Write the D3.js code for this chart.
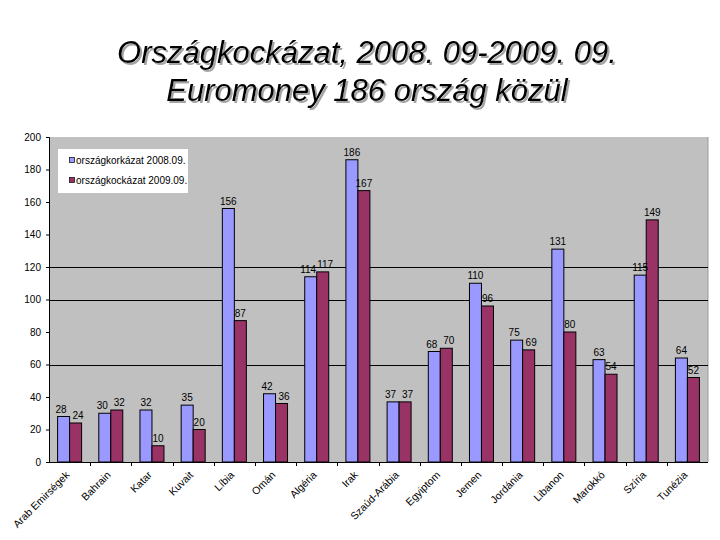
<!DOCTYPE html>
<html><head><meta charset="utf-8">
<script src="https://cdn.jsdelivr.net/npm/d3@7"></script>
<style>body{margin:0;background:#fff}</style>
</head><body>
<svg id="c" width="720" height="540"></svg>
<script>
const categories = ["Arab Emirségek","Bahrain","Katar","Kuvait","Líbia","Omán","Algéria","Irak","Szaúd-Arábia","Egyiptom","Jemen","Jordánia","Libanon","Marokkó","Szíria","Tunézia"];
const series2008 = [28,30,32,35,156,42,114,186,37,68,110,75,131,63,115,64];
const series2009 = [24,32,10,20,87,36,117,167,37,70,96,69,80,54,149,52];
const seriesNames = ["országkorkázat 2008.09.","országkockázat 2009.09."];
const yTicks = [0,20,40,60,80,100,120,140,160,180,200];
const gridValues = [60,100,120];
const titleLines = ["Országkockázat, 2008. 09-2009. 09.","Euromoney 186 ország közül"];

const colors = ["#9999FF","#993366"];
const svg = d3.select("#c");
const L=49, R=708, T=137, B=462;
const font = "Liberation Sans, Arial, sans-serif";

const defs = svg.append("defs");
const f = defs.append("filter").attr("id","sh").attr("x","-5%").attr("y","-20%").attr("width","110%").attr("height","140%");
f.append("feDropShadow").attr("dx",2).attr("dy",2).attr("stdDeviation",0.4)
  .attr("flood-color","#9a9a9a").attr("flood-opacity",0.9);

// title
titleLines.forEach((t,i)=>{
  const yb = [63,101][i];
  svg.append("text").attr("x",367).attr("y",yb).attr("text-anchor","middle")
    .attr("font-family",font).attr("font-style","italic")
    .attr("font-size",31).attr("fill","#000").attr("filter","url(#sh)").text(t);
});

const x0 = d3.scaleBand().domain(categories).range([L,R]).padding(0);
const bw = x0.bandwidth();
const x1 = d3.scaleBand().domain([0,1]).range([bw/2-12, bw/2+12]).padding(0);
const y = d3.scaleLinear().domain([0,200]).range([B,T]);

svg.append("rect").attr("x",L).attr("y",T).attr("width",R-L).attr("height",B-T).attr("fill","#C0C0C0");
svg.append("line").attr("x1",R).attr("x2",R).attr("y1",T).attr("y2",B).attr("stroke","#9a9a9a");

svg.append("g").selectAll("line").data(gridValues).join("line")
  .attr("x1",L).attr("x2",R).attr("y1",d=>Math.round(y(d))+0.5).attr("y2",d=>Math.round(y(d))+0.5)
  .attr("stroke","#000").attr("stroke-width",1);

const yAxis = svg.append("g").attr("transform",`translate(${L},0)`)
  .call(d3.axisLeft(y).tickValues(yTicks).tickSize(3).tickPadding(5));
yAxis.selectAll("text").attr("font-family",font).attr("font-size",10).attr("fill","#000");
yAxis.select(".domain").attr("stroke","#000");

const data = categories.map((c,i)=>({c, v:[series2008[i],series2009[i]]}));
const groups = svg.append("g").selectAll("g").data(data).join("g")
  .attr("transform",d=>`translate(${x0(d.c)},0)`);
groups.selectAll("rect").data(d=>d.v.map((v,k)=>({v,k}))).join("rect")
  .attr("x",d=>x1(d.k)).attr("width",x1.bandwidth())
  .attr("y",d=>y(d.v)).attr("height",d=>B-y(d.v))
  .attr("fill",d=>colors[d.k]).attr("stroke","#000").attr("stroke-width",1);
// labels, nudged apart when the two labels of a group sit at nearly the same height
groups.selectAll("text").data(d=>d.v.map((v,k)=>({v,k,close:Math.abs(y(d.v[0])-y(d.v[1]))<12}))).join("text")
  .attr("x",d=>x1(d.k)+x1.bandwidth()/2 + (d.close ? (d.k===0?-2.5:2.5) : 0))
  .attr("y",d=>y(d.v)-4)
  .attr("text-anchor","middle").attr("font-family",font).attr("font-size",10).attr("fill","#000")
  .text(d=>d.v);

// x axis
svg.append("line").attr("x1",L).attr("x2",R).attr("y1",B+0.5).attr("y2",B+0.5).attr("stroke","#000");
svg.append("g").selectAll("line").data(categories.slice(1)).join("line")
  .attr("x1",d=>Math.round(x0(d))+0.5).attr("x2",d=>Math.round(x0(d))+0.5)
  .attr("y1",B).attr("y2",B+4).attr("stroke","#000");
svg.append("g").selectAll("text").data(categories).join("text")
  .attr("transform",d=>`translate(${x0(d)+bw/2-2},${B+11}) rotate(-45)`)
  .attr("text-anchor","end").attr("dy","0.35em")
  .attr("font-family",font).attr("font-size",10.5).attr("fill","#000").text(d=>d);

// legend
const lg = svg.append("g");
lg.append("rect").attr("x",58).attr("y",149).attr("width",130).attr("height",44).attr("fill","#fff");
seriesNames.forEach((n,i)=>{
  const cy = 160 + i*20;
  lg.append("rect").attr("x",69.5).attr("y",cy-2.5).attr("width",5).attr("height",5)
    .attr("fill",colors[i]).attr("stroke","#000").attr("stroke-width",0.7);
  lg.append("text").attr("x",76).attr("y",cy).attr("dy","0.35em")
    .attr("font-family",font).attr("font-size",10).attr("fill","#000").text(n);
});
</script>
</body></html>
